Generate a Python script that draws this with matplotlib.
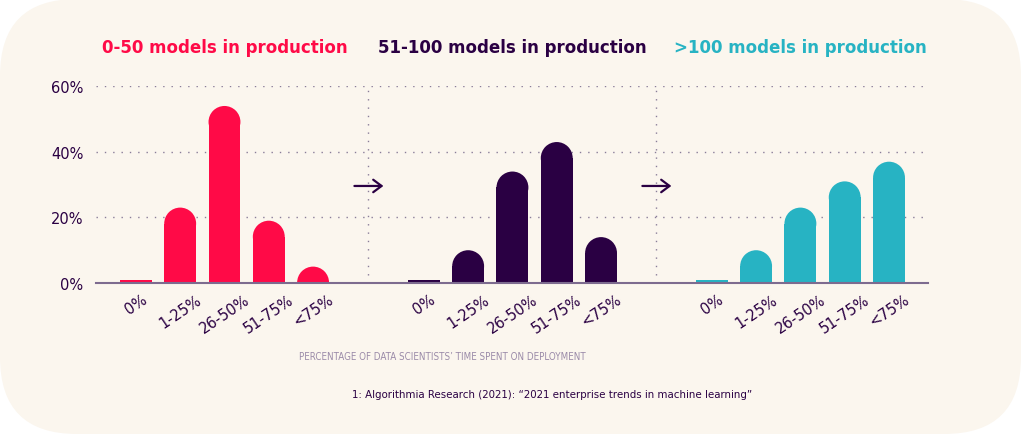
import matplotlib.pyplot as plt
from matplotlib.patches import Ellipse, FancyBboxPatch

# data
categories = ["0%", "1-25%", "26-50%", "51-75%", "<75%"]
group_titles = ["0-50 models in production", "51-100 models in production",
                ">100 models in production"]
values_0_50 = [1, 23, 54, 19, 5]
values_51_100 = [1, 10, 34, 43, 14]
values_100_plus = [1, 10, 23, 31, 37]
y_ticks = [0, 20, 40, 60]

groups = [values_0_50, values_51_100, values_100_plus]
colors = ["#FF0A47", "#2A0043", "#27B3C3"]
offsets = [0, 6.5, 13]
dark = "#2A0043"
cream = "#FBF6EE"

fig = plt.figure(figsize=(10.24, 4.35), dpi=100)
fig.patch.set_facecolor("white")
card = FancyBboxPatch((0.0, 0.0), 1021 / 1024, 1.0,
                      boxstyle="round,pad=0,rounding_size=0.075",
                      mutation_aspect=1024 / 435,
                      transform=fig.transFigure, facecolor=cream,
                      edgecolor="none", zorder=-10)
fig.patches.append(card)

ax = fig.add_axes([96 / 1024, 1 - 284 / 435, 832 / 1024, 196.7 / 435])
ax.set_facecolor("none")
ax.set_xlim(-0.9, 17.88)
ax.set_ylim(0, 60)

bar_w = 0.72
# cap radius in data units (bar width in px / 2, converted to y units)
px_per_x = 832 / (17.88 + 0.9)
px_per_y = 196.7 / 60
cap = bar_w * px_per_x / 2 / px_per_y

xticks, xlabels = [], []
for g, (vals, col, off) in enumerate(zip(groups, colors, offsets)):
    xs = [off + i for i in range(len(vals))]
    body = [v - cap if v > cap else v for v in vals]
    ax.bar(xs, body, width=bar_w, color=col, zorder=3)
    for x, v in zip(xs, vals):
        if v > cap:
            ax.add_patch(Ellipse((x, v - cap), bar_w, 2 * cap, facecolor=col,
                                 edgecolor="none", zorder=3))
    xticks += xs
    xlabels += categories
    ax.text(off + 2, 72, group_titles[g], color=col, ha="center",
            va="center", fontsize=12, fontweight="bold")

# grid and separators
for yv in y_ticks[1:]:
    ax.plot([-0.9, 17.88], [yv, yv], color="#8A7D99", lw=1,
            linestyle=(0, (1, 5)), zorder=1)
for sx in [5.25, 11.75]:
    ax.plot([sx, sx], [2.5, 60], color="#8A7D99", lw=1,
            linestyle=(0, (1, 5)), zorder=1)
    ax.annotate("", xy=(sx + 0.4, 29.6), xytext=(sx - 0.38, 29.6),
                arrowprops=dict(arrowstyle="->,head_length=0.6,head_width=0.45",
                                color=dark, lw=1.6), zorder=4)

for s in ["top", "right", "left"]:
    ax.spines[s].set_visible(False)
ax.spines["bottom"].set_color("#7D6B8F")
ax.spines["bottom"].set_linewidth(1.5)
ax.spines["bottom"].set_zorder(5)

ax.set_yticks(y_ticks)
ax.set_yticklabels([f"{t}%" for t in y_ticks], fontsize=10.5, color=dark)
ax.tick_params(axis="y", length=0, pad=9)
ax.set_xticks(xticks)
ax.set_xticklabels(xlabels, rotation=34, fontsize=10.5, color=dark)
ax.tick_params(axis="x", length=0, pad=6)

fig.text(442 / 1024, 1 - 357 / 435,
         "PERCENTAGE OF DATA SCIENTISTS\u2019 TIME SPENT ON DEPLOYMENT",
         ha="center", va="center", fontsize=7, color="#9A8AA8",
         fontstretch="condensed")
fig.text(552 / 1024, 1 - 395 / 435,
         "1: Algorithmia Research (2021): \u201c2021 enterprise trends in machine learning\u201d",
         ha="center", va="center", fontsize=8.2, color=dark,
         fontstretch="condensed")

fig.savefig("out.png", dpi=100, facecolor=fig.get_facecolor())
